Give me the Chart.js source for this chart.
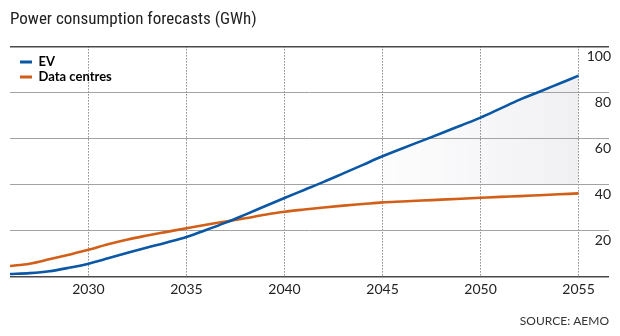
<!DOCTYPE html>
<html>
<head>
<meta charset="utf-8">
<title>Power consumption forecasts</title>
<script src="https://cdn.jsdelivr.net/npm/chart.js@4"></script>
<style>
  html, body { margin: 0; padding: 0; background: #fff; }
  #wrap { width: 620px; height: 336px; }
</style>
</head>
<body>
<div id="wrap"><canvas id="powerChart" width="620" height="336"></canvas></div>
<script>
// values (GWh)
const years = [2026, 2027, 2028, 2029, 2030, 2031, 2032, 2033, 2034, 2035,
               2036, 2037, 2038, 2039, 2040, 2041, 2042, 2043, 2044, 2045,
               2046, 2047, 2048, 2049, 2050, 2051, 2052, 2053, 2054, 2055];
const evValues = [1.2, 1.6, 2.4, 3.9, 5.7, 8.0, 10.4, 12.7, 14.9, 17.3,
                  20.3, 23.5, 27.0, 30.6, 34.2, 37.7, 41.2, 44.9, 48.6, 52.3,
                  55.7, 59.0, 62.3, 65.7, 69.1, 73.0, 76.9, 80.3, 83.8, 87.3];
const dataCentreValues = [4.7, 5.7, 7.6, 9.6, 11.7, 14.1, 16.2, 17.9, 19.5, 21.1,
                          22.6, 24.0, 25.4, 26.9, 28.2, 29.2, 30.1, 30.9, 31.6, 32.3,
                          32.7, 33.1, 33.5, 33.9, 34.3, 34.7, 35.0, 35.4, 35.8, 36.2];
const xTicks = [2030, 2035, 2040, 2045, 2050, 2055];
const yTicks = [0, 20, 40, 60, 80, 100];
const shadeFrom = 2045;   // grey band under EV line
const shadeBase = 40;

const BLUE = "#0a57a6";
const ORANGE = "#d25f18";
const FONT = "Lato, 'Open Sans', 'Noto Sans', sans-serif";
const TITLE_FONT = "'Roboto Condensed', 'Liberation Sans Narrow', sans-serif";

Chart.defaults.font.family = FONT;
Chart.defaults.color = "#222";

const pts = vals => years.map((y, i) => ({ x: y, y: vals[i] }));
const shadePts = pts(evValues).filter(p => p.x >= shadeFrom);

// legend sits inside the plot; vertical legends get top reset to 0, so place it
const legendNudge = {
  id: "legendNudge",
  afterLayout(chart) {
    const lg = chart.legend, area = chart.chartArea;
    if (!lg || !area) return;
    lg.left = area.left + 8;
    lg.top = area.top + 7;
    lg.bottom = area.bottom;
  }
};

function shadeFill(ctx) {
  const chart = ctx.chart;
  const x = chart.scales.x;
  if (!chart.chartArea || !x) return "rgba(240,240,243,0.8)";
  const x0 = x.getPixelForValue(shadeFrom);
  const x1 = x.getPixelForValue(years[years.length - 1]);
  const g = chart.ctx.createLinearGradient(x0, 0, x1, 0);
  g.addColorStop(0, "rgba(243,243,246,0.2)");
  g.addColorStop(1, "rgba(240,240,243,1)");
  return g;
}

new Chart(document.getElementById("powerChart"), {
  type: "line",
  data: {
    datasets: [
      { label: "EV", data: pts(evValues), borderColor: BLUE, backgroundColor: BLUE,
        borderWidth: 2.6, pointRadius: 0, cubicInterpolationMode: "monotone", fill: false, order: 1 },
      { label: "Data centres", data: pts(dataCentreValues), borderColor: ORANGE, backgroundColor: ORANGE,
        borderWidth: 2.6, pointRadius: 0, cubicInterpolationMode: "monotone", fill: false, order: 2 },
      { label: "shade", data: shadePts, borderWidth: 0, pointRadius: 0,
        cubicInterpolationMode: "monotone", fill: { value: shadeBase }, backgroundColor: shadeFill, order: 3 }
    ]
  },
  options: {
    responsive: false,
    animation: false,
    layout: { padding: { left: 10, right: 11, top: 0, bottom: 0 } },
    plugins: {
      filler: { drawTime: "beforeDraw" },
      tooltip: { enabled: false },
      title: {
        display: true, text: "Power consumption forecasts (GWh)", align: "start",
        color: "#222", font: { family: TITLE_FONT, size: 17, weight: "normal" },
        padding: { top: 10, bottom: 16 }
      },
      subtitle: {
        display: true, text: "SOURCE: AEMO", position: "bottom", align: "end",
        color: "#333", font: { size: 12, weight: "normal" },
        padding: { top: 12, bottom: 8 }
      },
      legend: {
        position: "chartArea", align: "start",
        labels: {
          boxWidth: 12, boxHeight: 3, padding: 2, color: "#111",
          font: { size: 13, weight: "bold" },
          filter: item => item.datasetIndex < 2,
          generateLabels: chart => chart.data.datasets.map((ds, i) => ({
            text: ds.label, fillStyle: ds.borderColor, strokeStyle: ds.borderColor,
            lineWidth: 0, hidden: false, datasetIndex: i
          }))
        }
      }
    },
    scales: {
      x: {
        type: "linear", min: 2026, max: 2056.55,
        afterBuildTicks: s => { s.ticks = xTicks.map(v => ({ value: v })); },
        ticks: { font: { size: 14 }, color: "#222", padding: 4, callback: v => String(v) },
        grid: { color: "#4f4f4f", lineWidth: 1, drawTicks: false },
        border: { display: false, dash: [1, 2] }
      },
      y: {
        position: "right", min: 0, max: 100,
        afterBuildTicks: s => { s.ticks = yTicks.map(v => ({ value: v })); },
        afterFit: s => { s.width = 0; },
        ticks: {
          mirror: true, padding: 2, labelOffset: 10, font: { size: 14 }, color: "#222",
          callback: v => (v === 0 ? "" : String(v))
        },
        grid: {
          drawTicks: false,
          color: c => (c.tick.value === 0 || c.tick.value === 100 ? "#4a4a4a" : "#a3a3a3"),
          lineWidth: c => (c.tick.value === 0 || c.tick.value === 100 ? 1.5 : 1)
        },
        border: { display: false }
      }
    }
  },
  plugins: [legendNudge]
});
</script>
</body>
</html>
